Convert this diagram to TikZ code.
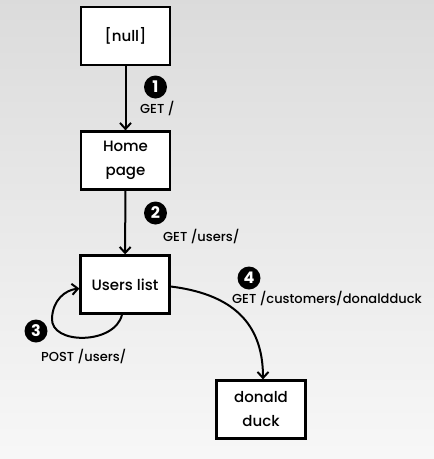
\documentclass[tikz,border=0pt]{standalone}
\usepackage{fontspec}
\setmainfont{Poppins}[UprightFont={* Medium},BoldFont={* Bold}]
\usetikzlibrary{arrows.meta,shadows}

\begin{document}
\begin{tikzpicture}[x=1pt,y=-1pt,
  page/.style={draw,line width=2.2pt,fill=white,minimum width=89pt,minimum height=58pt,
    align=center,font=\fontsize{15}{24}\selectfont,
    drop shadow={opacity=0.35,shadow xshift=1.2pt,shadow yshift=-1.2pt}},
  num/.style={circle,fill=black,inner sep=0pt,minimum size=23pt,text=white,
    font=\fontsize{16}{16}\selectfont\bfseries},
  req/.style={anchor=west,inner sep=0pt,font=\fontsize{13}{15}\selectfont},
  link/.style={line width=2pt,-{Straight Barb[length=6pt,width=11pt,line width=2pt]}}]
\shade[top color=black!14,bottom color=black!3] (0,0) rectangle (434,459);
\node[page] (null) at (125.5,36) {[null]};
\node[page] (home) at (125.5,160.5) {Home\\page};
\node[page] (users) at (125,284.5) {Users list};
\node[page] (duck) at (261,409.5) {donald\\duck};
\foreach \n/\x/\y in {1/155.5/87, 2/155.5/213, 3/36/331, 4/249/278}
  \node[num] (n\n) at (\x,\y) {\n};
\node[req] (r1) at (140,108) {GET /};
\node[req] (r2) at (163,236) {GET /users/};
\node[req] (r3) at (41,356) {POST /users/};
\node[req] (r4) at (232,298) {GET /customers/donaldduck};
\draw[link] (null) -- (home);
\draw[link] (home) -- (users);
\draw[link] ([xshift=-3pt]users.south) .. controls (115,345) and (50,345) .. (52,318)
  .. controls (53,300) and (65,290) .. ([yshift=-4pt]users.west);
\draw[link] ([yshift=-2pt]users.east) .. controls (240,295) and (263,330) .. ([xshift=2pt]duck.north);
\end{tikzpicture}
\end{document}
